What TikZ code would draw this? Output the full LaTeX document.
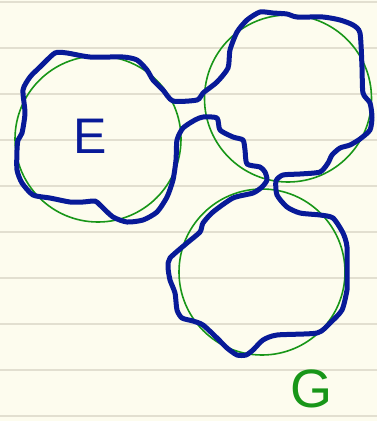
\documentclass[tikz,border=0pt]{standalone}
\usepackage{fontspec}
\newfontfamily\handfont{Liberation Sans}
\definecolor{paper}{RGB}{253,252,238}
\definecolor{rule}{RGB}{226,223,208}
\definecolor{penblue}{RGB}{8,26,152}
\definecolor{pengreen}{RGB}{24,150,24}
\tikzset{
  ruleline/.style={draw=rule, line width=1.6pt},
  setcircle/.style={draw=pengreen, line width=1.6pt},
  blob/.style={draw=penblue, line width=5pt, line join=round, line cap=round},
  label/.style={inner sep=0pt, anchor=base, text depth=0pt},
}
\begin{document}
\begin{tikzpicture}[x=1pt, y=-1pt]
\fill[paper] (0,0) rectangle (377,421);
\useasboundingbox (0,0) rectangle (377,421);
% ruled lines
\foreach \yy in {2,48,94,140,186,232,278,324,370,416}
  \draw[ruleline] (0,\yy) -- (377,\yy);
% circles
\draw[setcircle] (98,139) circle[radius=83];
\draw[setcircle] (288,98.5) circle[radius=83.5];
\draw[setcircle] (262,272) circle[radius=83];
% blue boundary
\draw[blob] plot[smooth cycle, tension=0.4] coordinates {
 (55,53) (67,53) (90,57) (123,57) (137,60) (147,70) (153,80) (163,90) (173,101)
 (197,100) (203,93) (217,82) (228,68) (230,50) (237,32) (247,20) (260,12)
 (273,13) (287,14) (297,17) (323,17) (340,20) (353,25) (360,33) (362,67)
 (363,93) (370,103) (372,117) (370,130) (360,139) (350,145) (340,148)
 (332,155) (328,163) (320,172) (300,174) (283,175) (276,181) (277,195)
 (287,207) (300,213) (320,215) (333,218) (343,233) (347,247) (347,280)
 (347,290) (342,310) (330,323) (317,333) (277,335) (263,340) (253,350)
 (246,355) (237,355) (227,348) (217,338) (203,325) (193,321) (182,318)
 (177,310) (175,293) (170,280) (168,267) (170,258) (187,243) (200,232)
 (203,223) (213,212) (233,198) (253,193) (262,187) (267,180) (265,172)
 (260,167) (247,164) (245,150) (243,140) (233,137) (220,130) (217,118)
 (203,117) (195,120) (183,128) (177,140) (176,160) (173,180) (167,197)
 (157,212) (143,220) (127,222) (113,217) (100,205) (95,201) (83,202)
 (70,202) (50,198) (33,195) (22,183) (17,170) (17,150) (18,140)
 (22,133) (25,113) (23,90) (30,77) (40,67)
};
% labels
\node[label, text=penblue, font=\handfont\fontsize{50}{50}\selectfont] (e) at (90,153) {E};
\node[label, text=pengreen, font=\handfont\fontsize{54}{54}\selectfont] (g) at (311,407) {G};
\end{tikzpicture}
\end{document}
